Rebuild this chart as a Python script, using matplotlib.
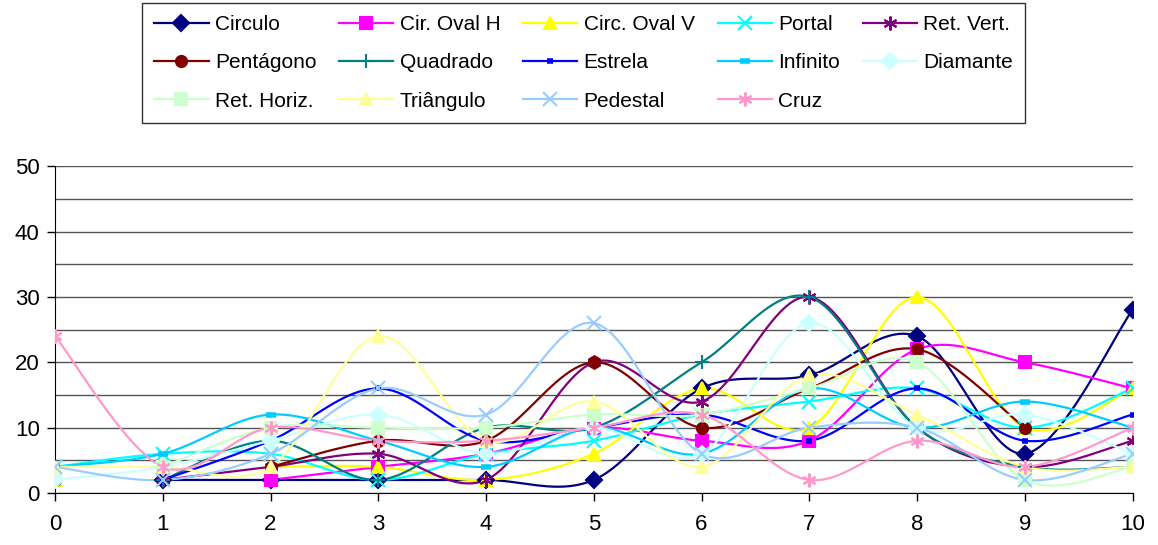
import numpy as np
import matplotlib.pyplot as plt

plt.rcParams['font.family'] = ['Liberation Sans', 'DejaVu Sans']

x = list(range(11))
nan = np.nan

names = ["Circulo", "Cir. Oval H", "Circ. Oval V", "Portal", "Ret. Vert.",
         "Pentágono", "Quadrado", "Estrela", "Infinito", "Diamante",
         "Ret. Horiz.", "Triângulo", "Pedestal", "Cruz"]

circulo = [nan, 2, 2, 2, 2, 2, 16, 18, 24, 6, 28]
cir_oval_h = [nan, nan, 2, 4, 6, 10, 8, 8, 22, 20, 16]
circ_oval_v = [2, nan, 4, 4, 2, 6, 16, 10, 30, 10, 16]
portal = [4, 6, 6, 2, 6, 8, 12, 14, 16, 10, 16]
ret_vert = [nan, 2, 4, 6, 2, 20, 14, 30, 10, 4, 8]
pentagono = [2, nan, 4, 8, 8, 20, 10, 16, 22, 10, nan]
quadrado = [nan, 2, 8, 2, 10, 10, 20, 30, 10, 4, 4]
estrela = [nan, 2, 8, 16, 8, 10, 12, 8, 16, 8, 12]
infinito = [4, 6, 12, 8, 4, 10, 6, 16, 10, 14, 10]
diamante = [2, 4, 8, 12, 6, 10, 6, 26, 10, 12, 6]
ret_horiz = [nan, 4, 10, 10, 10, 12, 12, 16, 20, 2, 4]
triangulo = [4, 4, 4, 24, 8, 14, 4, 18, 12, 4, 4]
pedestal = [4, 2, 6, 16, 12, 26, 6, 10, 10, 2, 6]
cruz = [24, 4, 10, 8, 8, 10, 12, 2, 8, 4, 10]

series = [circulo, cir_oval_h, circ_oval_v, portal, ret_vert,
          pentagono, quadrado, estrela, infinito, diamante,
          ret_horiz, triangulo, pedestal, cruz]

colors = ["#000080", "#FF00FF", "#FFFF00", "#00FFFF", "#800080",
          "#800000", "#008080", "#0000FF", "#00CCFF", "#CCFFFF",
          "#CCFFCC", "#FFFF99", "#99CCFF", "#FF99CC"]
asterisk = (6, 2, 0)
markers = ["D", "s", "^", "x", asterisk,
           "o", "+", "_", "_", "D",
           "s", "^", "x", asterisk]


def smooth(xs, ys, n=24):
    # Excel-like smoothed line (Bezier through the points)
    xs = np.asarray(xs, float)
    ys = np.asarray(ys, float)
    if len(xs) < 2:
        return xs, ys
    px = np.concatenate([[xs[0]], xs, [xs[-1]]])
    py = np.concatenate([[ys[0]], ys, [ys[-1]]])
    out_x, out_y = [], []
    t = np.linspace(0, 1, n)
    for i in range(1, len(px) - 2):
        p0 = np.array([px[i], py[i]])
        p3 = np.array([px[i + 1], py[i + 1]])
        c1 = p0 + (np.array([px[i + 1], py[i + 1]]) - np.array([px[i - 1], py[i - 1]])) / 6
        c2 = p3 - (np.array([px[i + 2], py[i + 2]]) - np.array([px[i], py[i]])) / 6
        b = ((1 - t) ** 3)[:, None] * p0 + (3 * (1 - t) ** 2 * t)[:, None] * c1 \
            + (3 * (1 - t) * t ** 2)[:, None] * c2 + (t ** 3)[:, None] * p3
        out_x.extend(b[:, 0])
        out_y.extend(b[:, 1])
    return np.array(out_x), np.array(out_y)


fig = plt.figure(figsize=(11.58, 5.45), dpi=100)
ax = fig.add_axes([0.0475, 0.0954, 0.9305, 0.5996])

handles = []
for name, ys, c, m in zip(names, series, colors, markers):
    ys = np.array(ys, float)
    xs = np.array(x, float)
    # split on missing values
    seg_x, seg_y = [], []
    for xi, yi in list(zip(xs, ys)) + [(nan, nan)]:
        if np.isnan(yi):
            if seg_x:
                sx, sy = smooth(seg_x, seg_y)
                ax.plot(sx, sy, color=c, lw=1.6, zorder=2)
            seg_x, seg_y = [], []
        else:
            seg_x.append(xi)
            seg_y.append(yi)
    mew = 1.5
    ms = 8
    if m == "_":
        mew = 4
        ms = 7 if name == "Infinito" else 4
    if m in ("x", "+") or m == asterisk:
        ms = 10
    ax.plot(xs, ys, linestyle="none", marker=m, color=c, ms=ms, mew=mew, zorder=3)
    h, = ax.plot([], [], color=c, lw=1.6, marker=m, ms=ms, mew=mew, label=name)
    handles.append(h)

ax.set_xlim(0, 10)
ax.set_ylim(0, 50)
ax.set_xticks(x)
ax.set_yticks(range(0, 51, 10))
ax.set_yticks(range(5, 50, 10), minor=True)
ax.grid(axis="y", which="both", color="#555555", lw=1.0, zorder=0)
ax.tick_params(axis="y", which="minor", length=0)
ax.tick_params(axis="both", which="major", direction="out", length=6, labelsize=16, width=1)
ax.tick_params(axis="x", pad=9)
ax.tick_params(axis="y", pad=5)
for s in ["top", "right"]:
    ax.spines[s].set_visible(False)
ax.spines["left"].set_color("black")
ax.spines["bottom"].set_color("black")
ax.set_axisbelow(True)

# reorder so legend fills row by row
order = []
for col in range(5):
    for row in range(3):
        i = row * 5 + col
        if i < len(handles):
            order.append(i)
leg = fig.legend([handles[i] for i in order], [names[i] for i in order],
                 loc="upper center", bbox_to_anchor=(0.504, 0.995), ncol=5,
                 fontsize=15, frameon=True, fancybox=False, edgecolor="black",
                 handlelength=2.6, columnspacing=1.1, labelspacing=0.92,
                 handletextpad=0.3, borderpad=0.6, borderaxespad=0)
leg.get_frame().set_linewidth(1.0)

fig.savefig("out.png", dpi=100)
